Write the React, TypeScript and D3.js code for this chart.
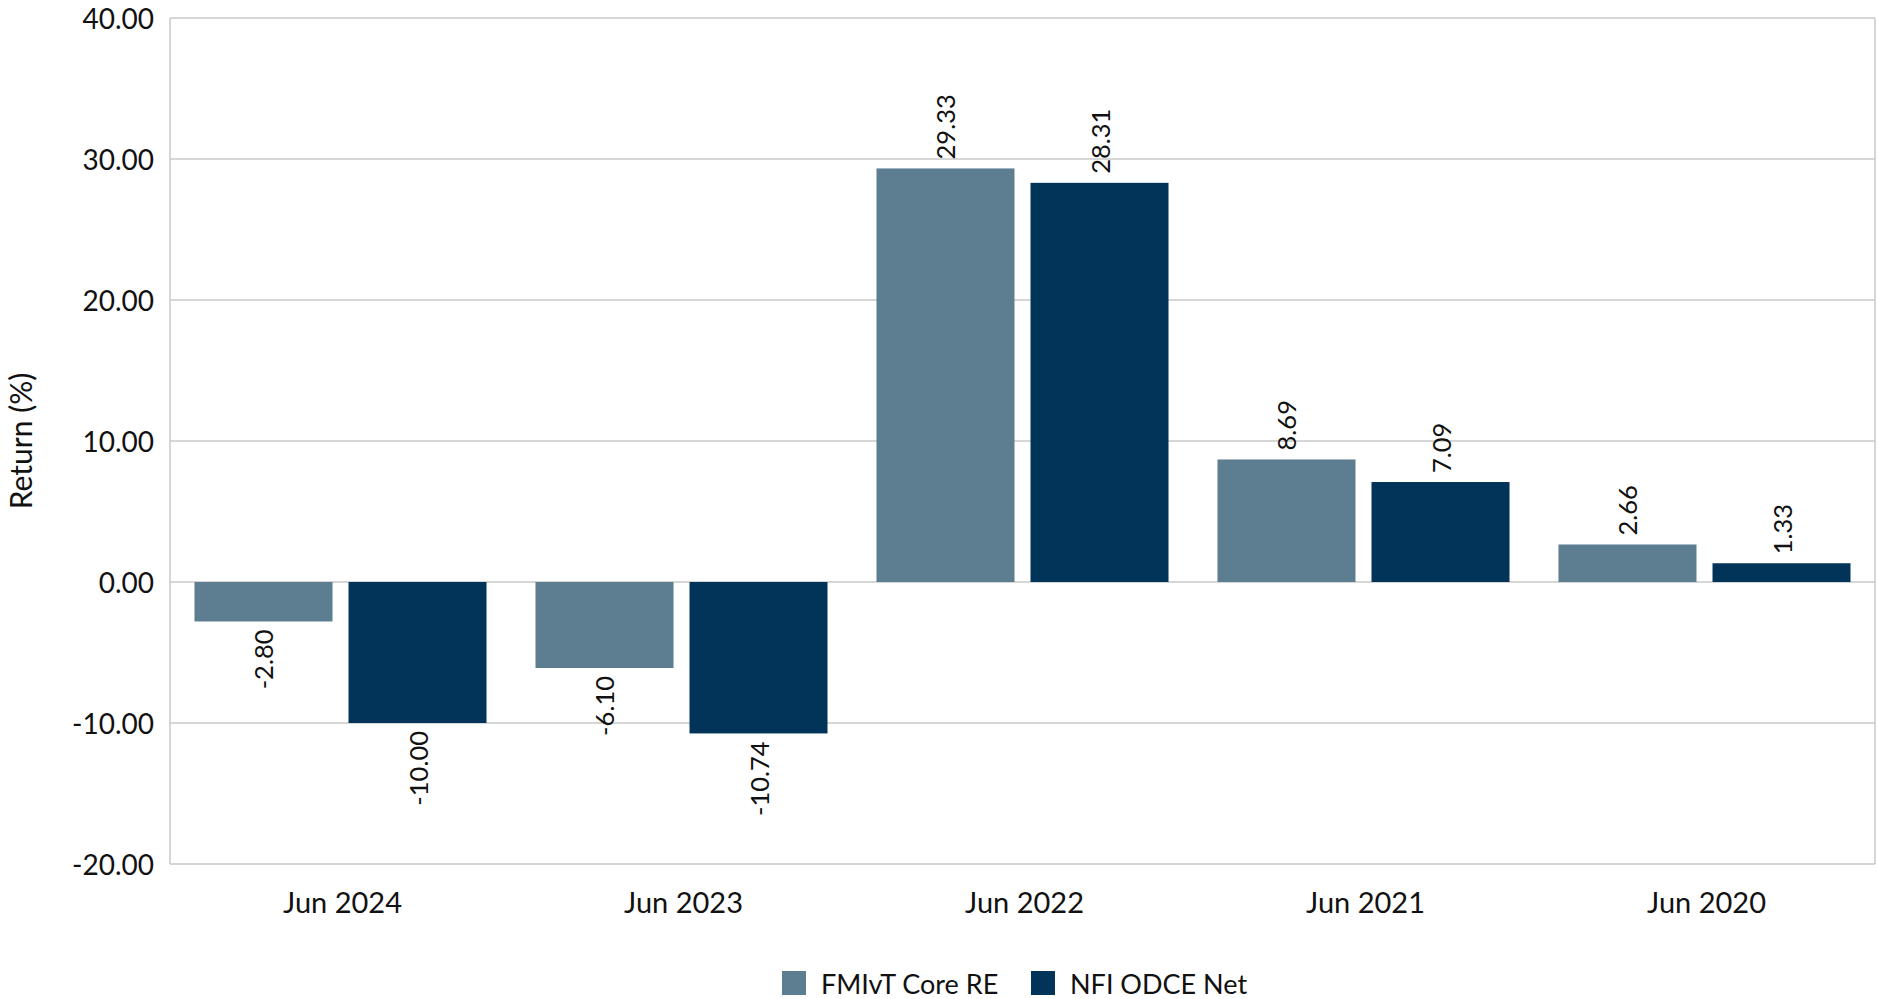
import React from "react";
import * as d3 from "d3";

const categories = ["Jun 2024", "Jun 2023", "Jun 2022", "Jun 2021", "Jun 2020"];
const seriesNames = ["FMIvT Core RE", "NFI ODCE Net"];
const fmivtValues = [-2.8, -6.1, 29.33, 8.69, 2.66];
const nfiValues = [-10.0, -10.74, 28.31, 7.09, 1.33];
const yTicks = [-20, -10, 0, 10, 20, 30, 40];
const colors = ["#5D7E91", "#023359"];

const W = 1877;
const H = 999;
const left = 170;
const right = 1875;
const top = 18;
const bottom = 864;
const FONT = "Lato, 'Open Sans', sans-serif";
const TEXT = "#111111";

const fmt = (v: number) => d3.format(".2f")(v).replace("\u2212", "-");

export default function App() {
  const x0 = d3.scaleBand<string>().domain(categories).range([left, right]).padding(0);
  const x1 = d3
    .scaleBand<string>()
    .domain(seriesNames)
    .range([0, x0.bandwidth()])
    .paddingInner(0.104)
    .paddingOuter(0.159);
  const y = d3.scaleLinear().domain([-20, 40]).range([bottom, top]);
  const seriesValues = [fmivtValues, nfiValues];

  const legendSq = 24;
  const legendY = 971;
  const legendItems = [
    { name: seriesNames[0], x: 782 },
    { name: seriesNames[1], x: 1031 },
  ];

  return (
    <svg
      width={W}
      height={H}
      style={{ position: "absolute", left: 0, top: 0, background: "#fff" }}
      fontFamily={FONT}
    >
      {/* gridlines */}
      {yTicks.map((t) => (
        <line key={t} x1={left} x2={right} y1={y(t)} y2={y(t)} stroke="#c8c8c8" strokeWidth={1.5} />
      ))}
      <line x1={left} x2={left} y1={top} y2={bottom} stroke="#c8c8c8" strokeWidth={1.5} />
      <line x1={right} x2={right} y1={top} y2={bottom} stroke="#c8c8c8" strokeWidth={1.5} />

      {/* tick labels */}
      {yTicks.map((t) => (
        <text
          key={"l" + t}
          x={154}
          y={y(t)}
          textAnchor="end"
          dominantBaseline="central"
          fontSize={28}
          fill={TEXT}
        >
          {fmt(t)}
        </text>
      ))}

      {/* y title */}
      <text
        transform={`translate(20,${(top + bottom) / 2}) rotate(-90)`}
        textAnchor="middle"
        dominantBaseline="central"
        fontSize={30}
        fill={TEXT}
      >
        Return (%)
      </text>

      {/* bars */}
      {categories.map((c, i) => (
        <g key={c} transform={`translate(${x0(c)},0)`}>
          {seriesNames.map((s, j) => {
            const v = seriesValues[j][i];
            const bx = x1(s)!;
            const y0 = y(0);
            const yv = y(v);
            const cx = bx + x1.bandwidth() / 2;
            return (
              <g key={s}>
                <rect
                  x={bx}
                  y={Math.min(y0, yv)}
                  width={x1.bandwidth()}
                  height={Math.abs(yv - y0)}
                  fill={colors[j]}
                />
                <text
                  transform={`translate(${cx},${v >= 0 ? yv - 9 : yv + 8}) rotate(-90)`}
                  textAnchor={v >= 0 ? "start" : "end"}
                  dominantBaseline="central"
                  fontSize={25.5}
                  fill={TEXT}
                >
                  {fmt(v)}
                </text>
              </g>
            );
          })}
        </g>
      ))}

      {/* x labels */}
      {categories.map((c) => (
        <text
          key={"x" + c}
          x={x0(c)! + x0.bandwidth() / 2 + 2}
          y={913}
          textAnchor="middle"
          fontSize={29}
          fill={TEXT}
        >
          {c}
        </text>
      ))}

      {/* legend */}
      {legendItems.map((it, j) => (
        <g key={it.name}>
          <rect x={it.x} y={legendY} width={legendSq} height={legendSq} fill={colors[j]} />
          <text
            x={it.x + legendSq + 15}
            y={legendY + legendSq / 2}
            dominantBaseline="central"
            fontSize={27}
            fill={TEXT}
          >
            {it.name}
          </text>
        </g>
      ))}
    </svg>
  );
}
